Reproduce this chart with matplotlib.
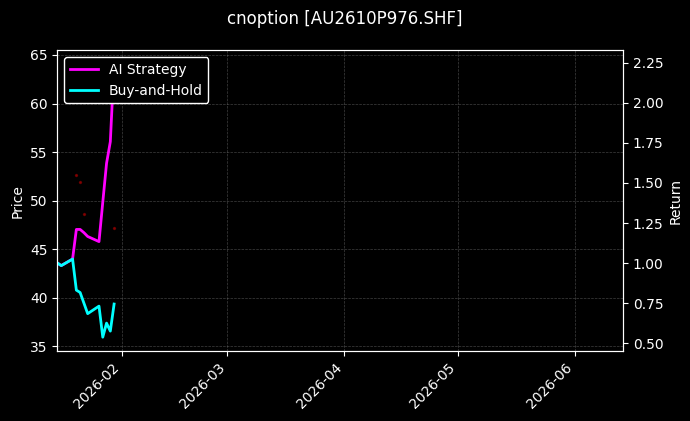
import pandas as pd
import numpy as np
import matplotlib
matplotlib.use('Agg')
import matplotlib.pyplot as plt
import matplotlib.dates as mdates

# daily returns (Jan 2026 trading days)
dates = pd.to_datetime(['2026-01-15', '2026-01-16', '2026-01-19', '2026-01-20',
                        '2026-01-21', '2026-01-22', '2026-01-23', '2026-01-26',
                        '2026-01-27', '2026-01-28', '2026-01-29', '2026-01-30'])
ai_ret = [1.00, 0.984, 1.025, 1.21, 1.21, 1.19, 1.166, 1.134, 1.38, 1.623, 1.758, 2.245]
bh_ret = [1.00, 0.984, 1.025, 0.831, 0.816, 0.75, 0.684, 0.731, 0.537, 0.625, 0.575, 0.744]

# faint trade markers on price axis
mark_dates = pd.to_datetime(['2026-01-20', '2026-01-21', '2026-01-22', '2026-01-30'])
mark_price = [52.6, 51.9, 48.6, 47.2]

plt.style.use('dark_background')
fig = plt.figure(figsize=(6.9, 4.21), dpi=100)
ax = fig.add_axes([0.0833, 0.166, 0.8197, 0.715])
ax2 = ax.twinx()

ax.scatter(mark_dates, mark_price, s=2, color='red', alpha=0.35, zorder=2)
ax.set_ylim(34.5, 65.5)
ax.set_ylabel('Price')
ax.grid(True, linestyle='--', linewidth=0.5, color='gray', alpha=0.5)

ax2.plot(dates, ai_ret, color='magenta', linewidth=2, label='AI Strategy')
ax2.plot(dates, bh_ret, color='cyan', linewidth=2, label='Buy-and-Hold')
ax2.set_ylim(0.45, 2.33)
ax2.set_ylabel('Return')

ax.set_xlim(pd.Timestamp('2026-01-15'), pd.Timestamp('2026-06-13 20:00'))
ax.xaxis.set_major_locator(mdates.MonthLocator())
ax.xaxis.set_major_formatter(mdates.DateFormatter('%Y-%m'))
plt.setp(ax.get_xticklabels(), rotation=45, ha='right')

leg = ax2.legend(loc='upper left', facecolor='black', edgecolor='white', framealpha=1)
fig.suptitle('cnoption [AU2610P976.SHF]', y=0.977)

fig.savefig('out.png', dpi=100)
